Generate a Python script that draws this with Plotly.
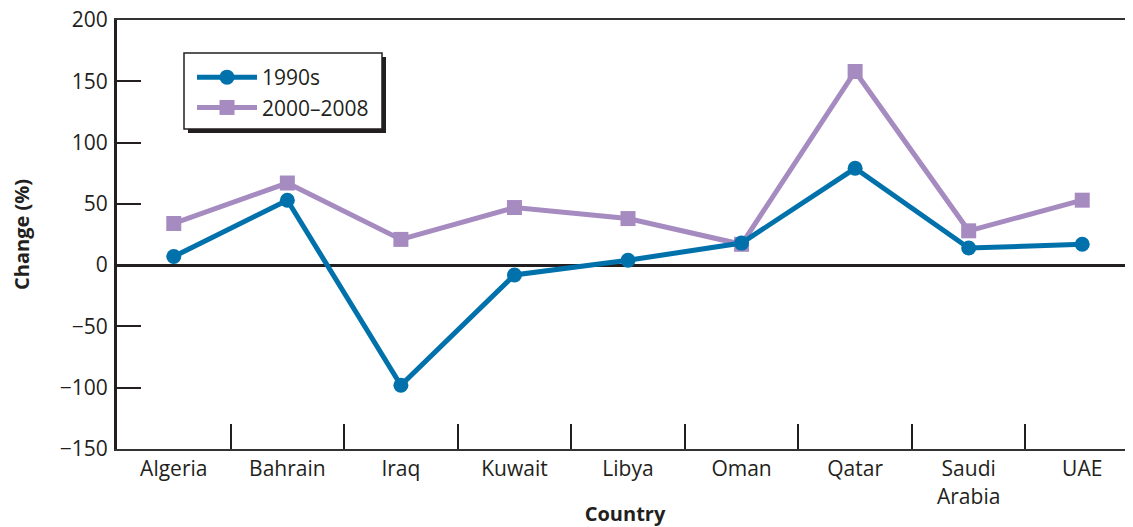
import plotly.graph_objects as go

countries = ["Algeria", "Bahrain", "Iraq", "Kuwait", "Libya", "Oman", "Qatar", "Saudi<br>Arabia", "UAE"]
s1990 = [7, 53, -98, -8, 4, 18, 79, 14, 17]
s2000 = [34, 67, 21, 47, 38, 17, 158, 28, 53]
ytick_vals = [-150, -100, -50, 0, 50, 100, 150, 200]

BLUE = "#0071aa"
PURPLE = "#a68bc1"
DARK = "#231f20"
FONT = "Open Sans"

fig = go.Figure()
fig.add_trace(go.Scatter(x=countries, y=s2000, name="2000\u20132008", mode="lines+markers",
                         line=dict(color=PURPLE, width=5),
                         marker=dict(symbol="square", size=15, color=PURPLE)))
fig.add_trace(go.Scatter(x=countries, y=s1990, name="1990s", mode="lines+markers",
                         line=dict(color=BLUE, width=5),
                         marker=dict(symbol="circle", size=15, color=BLUE)))

# page body has an 8px margin; figure sits at (8, 8)
OFF = 8
W, H = 1133 - OFF, 527 - OFF
L, T = 117 - OFF, 20 - OFF
B = H - (449 - OFF)
pw = W - L
ph = H - T - B

def px2paper(x, y):
    # x, y in screenshot pixels
    return (x - OFF - L) / pw, (H - B - (y - OFF)) / ph

# legend box (drawn as shapes) with drop shadow
lx0, ly0, lx1, ly1 = 184, 53, 382, 129
sx0, sy0 = px2paper(lx0 + 4, ly1 + 4)
sx1, sy1 = px2paper(lx1 + 4, ly0 + 4)
fig.add_shape(type="rect", xref="paper", yref="paper", x0=sx0, y0=sy0, x1=sx1, y1=sy1,
              fillcolor=DARK, line=dict(width=0), layer="above")
bx0, by0 = px2paper(lx0, ly1)
bx1, by1 = px2paper(lx1, ly0)
fig.add_shape(type="rect", xref="paper", yref="paper", x0=bx0, y0=by0, x1=bx1, y1=by1,
              fillcolor="white", line=dict(width=1.5, color=DARK), layer="above")

legx, legy = px2paper(lx0 + 8, ly0 + 4)

fig.update_layout(
    width=W, height=H,
    margin=dict(l=L, r=0, t=T, b=B, autoexpand=False),
    paper_bgcolor="white", plot_bgcolor="white",
    font=dict(family=FONT, size=21, color=DARK),
    showlegend=True,
    legend=dict(x=legx, y=legy, xanchor="left", yanchor="top",
                bgcolor="rgba(0,0,0,0)", borderwidth=0,
                font=dict(size=21), traceorder="reversed",
                tracegroupgap=0, itemwidth=60),
    xaxis=dict(
        type="category", range=[-0.5, 8.447], automargin=False,
        showline=True, linecolor="#333333", linewidth=2, mirror=True,
        ticks="inside", tickson="boundaries", ticklen=25, tickwidth=1.5, tickcolor=DARK,
        showgrid=False, zeroline=False,
        title=dict(text="<b>Country</b>", font=dict(size=20), standoff=2),
        tickfont=dict(size=21),
    ),
    yaxis=dict(
        range=[-150, 200], tickvals=ytick_vals, automargin=False,
        showline=True, linecolor=DARK, linewidth=3,
        ticks="inside", ticklen=24, tickwidth=1.5, tickcolor=DARK,
        showgrid=False,
        zeroline=True, zerolinecolor=DARK, zerolinewidth=3,
        title=dict(text="<b>Change (%)</b>", font=dict(size=20), standoff=27),
        tickfont=dict(size=21),
        ticklabelstandoff=2,
        ticklabeloverflow="allow",
    ),
)

fig.write_html("out.html")
